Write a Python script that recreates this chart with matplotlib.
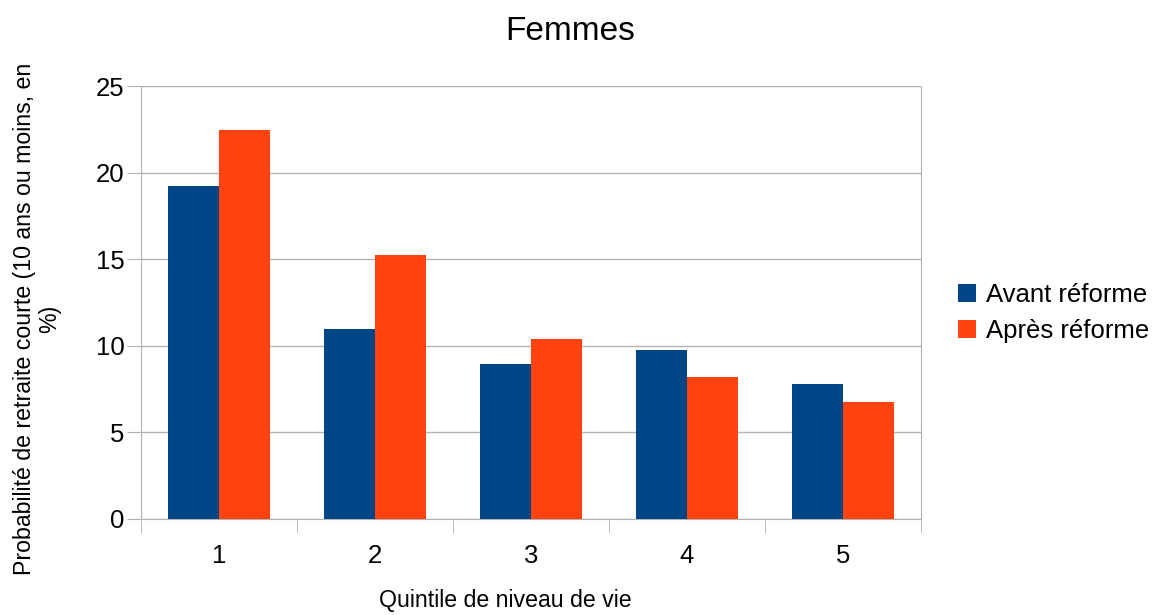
import numpy as np
import matplotlib
matplotlib.use("Agg")
import matplotlib.pyplot as plt
from matplotlib.ticker import FixedLocator

plt.rcParams['font.family'] = ['Liberation Sans', 'DejaVu Sans']

# Données
quintiles = ["1", "2", "3", "4", "5"]
avant = [19.2, 10.95, 8.95, 9.73, 7.82]
apres = [22.45, 15.27, 10.42, 8.18, 6.78]
series_names = ["Avant réforme", "Après réforme"]
colors = ["#004586", "#ff420e"]

fig = plt.figure(figsize=(11.52, 6.15), dpi=100)
ax = fig.add_axes([141 / 1152, 1 - 519 / 615, 780 / 1152, 433 / 615])

x = np.arange(1, len(quintiles) + 1)
w = 0.327
ax.bar(x - w / 2, avant, width=w, color=colors[0], label=series_names[0], zorder=3)
ax.bar(x + w / 2, apres, width=w, color=colors[1], label=series_names[1], zorder=3)

ax.set_xlim(0.5, len(quintiles) + 0.5)
ax.set_ylim(0, 25)
ax.set_yticks([0, 5, 10, 15, 20, 25])
ax.set_xticks(x)
ax.set_xticklabels(quintiles)
ax.xaxis.set_minor_locator(FixedLocator(np.arange(0.5, len(quintiles) + 1, 1)))

gray = "#b3b3b3"
ax.grid(axis="y", color=gray, linewidth=1, zorder=0)
for s in ax.spines.values():
    s.set_color(gray)
ax.spines["top"].set_visible(False)

ax.tick_params(axis="y", length=10, color=gray, labelsize=18.5, pad=2)
ax.tick_params(axis="x", which="major", length=0, labelsize=18.5, pad=18)
ax.tick_params(axis="x", which="minor", length=10, color=gray)

fig.text(570 / 1152, 1 - 32 / 615, "Femmes", ha="center", va="center", fontsize=24)
fig.text(505 / 1152, 1 - 601 / 615, "Quintile de niveau de vie", ha="center", va="center", fontsize=16.7)
fig.text(37 / 1152, 1 - 319 / 615, "Probabilité de retraite courte (10 ans ou moins, en\n%)",
         ha="center", va="center", rotation=90, fontsize=16.7, linespacing=1.15)

fig.legend(loc="center left", bbox_to_anchor=(945 / 1152, 1 - 313 / 615), frameon=False,
           fontsize=18.5, handlelength=0.7, handleheight=0.7, handletextpad=0.4,
           labelspacing=0.45, borderpad=0)

fig.savefig("out.png", dpi=100)
